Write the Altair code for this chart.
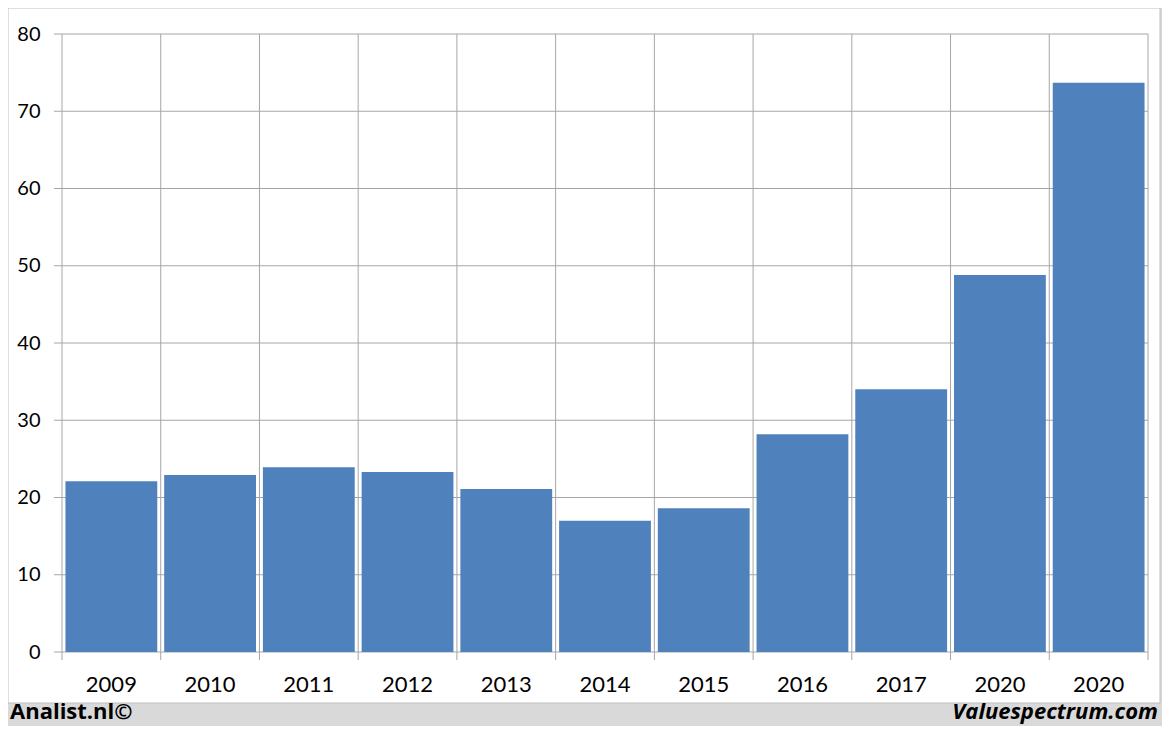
import altair as alt
import pandas as pd

# ---- data ----
years = ["2009", "2010", "2011", "2012", "2013", "2014", "2015", "2016", "2017", "2020", "2020"]
values = [22.1, 22.9, 23.9, 23.3, 21.1, 17.0, 18.6, 28.2, 34.0, 48.8, 73.7]
y_ticks = [0, 10, 20, 30, 40, 50, 60, 70, 80]

keys = [f"{y}#{i}" for i, y in enumerate(years)]

bars_df = pd.DataFrame({"key": keys, "value": values})
grid_df = pd.DataFrame({"value": y_ticks})
vgrid_df = pd.DataFrame({"key": keys})

W, H = 1086, 618
BAR = "#4F81BD"
GRID = "#A6A6A6"
FONT = "Lato"
FOOT_FONT = "Open Sans"

xscale = alt.Scale(domain=keys, paddingInner=0, paddingOuter=0)
yscale = alt.Scale(domain=[0, 80], nice=False, zero=True)

xaxis = alt.Axis(
    labelExpr="split(datum.label, '#')[0]",
    labelAngle=0, domain=False, ticks=False, grid=False,
    labelFont=FONT, labelFontSize=22, labelColor="#000000",
    labelPadding=22, zindex=1,
)
yaxis = alt.Axis(
    values=y_ticks, domain=False, ticks=False, grid=False,
    labelFont=FONT, labelFontSize=20, labelColor="#000000",
    labelPadding=22, zindex=1,
)

# white inner panel (decoration)
panel = alt.Chart(pd.DataFrame({"a": [0]})).mark_rect(
    fill="white", stroke="#BFBFBF", strokeWidth=1
).encode(
    x=alt.value(-54), x2=alt.value(1098), y=alt.value(-26), y2=alt.value(669)
)

hgrid = alt.Chart(grid_df).mark_rule(color=GRID, strokeWidth=1).encode(
    y=alt.Y("value:Q", scale=yscale, axis=yaxis, title=None),
    x=alt.value(-8), x2=alt.value(W),
)

vgrid = alt.Chart(vgrid_df).mark_rule(color=GRID, strokeWidth=1).encode(
    x=alt.X("key:N", scale=xscale, bandPosition=0, axis=xaxis, title=None),
    y=alt.value(0), y2=alt.value(H + 8),
)

vend = alt.Chart(pd.DataFrame({"a": [0]})).mark_rule(color=GRID, strokeWidth=1).encode(
    x=alt.value(W), y=alt.value(0), y2=alt.value(H + 8)
)

bars = alt.Chart(bars_df).mark_bar(
    color=BAR, width=alt.RelativeBandSize(0.93)
).encode(
    x=alt.X("key:N", scale=xscale, title=None, axis=xaxis),
    y=alt.Y("value:Q", scale=yscale, title=None, axis=yaxis),
)

left_txt = alt.Chart(pd.DataFrame({"t": ["Analist.nl©"]})).mark_text(
    font=FOOT_FONT, fontSize=22, fontWeight="bold", align="left", baseline="middle", color="#000000"
).encode(text="t:N", x=alt.value(-52), y=alt.value(678))

right_txt = alt.Chart(pd.DataFrame({"t": ["Valuespectrum.com"]})).mark_text(
    font=FOOT_FONT, fontSize=22, fontWeight="bold", fontStyle="italic", align="right",
    baseline="middle", color="#000000"
).encode(text="t:N", x=alt.value(1096), y=alt.value(678))

chart = alt.layer(panel, hgrid, vgrid, vend, bars, left_txt, right_txt).properties(
    width=W, height=H,
    autosize=alt.AutoSizeParams(type="none"),
    padding={"left": 54, "top": 26, "right": 14, "bottom": 74},
    background="#D9D9D9",
).configure_view(stroke=None)

chart.save("out.html", embed_options={"renderer": "svg", "actions": False})
